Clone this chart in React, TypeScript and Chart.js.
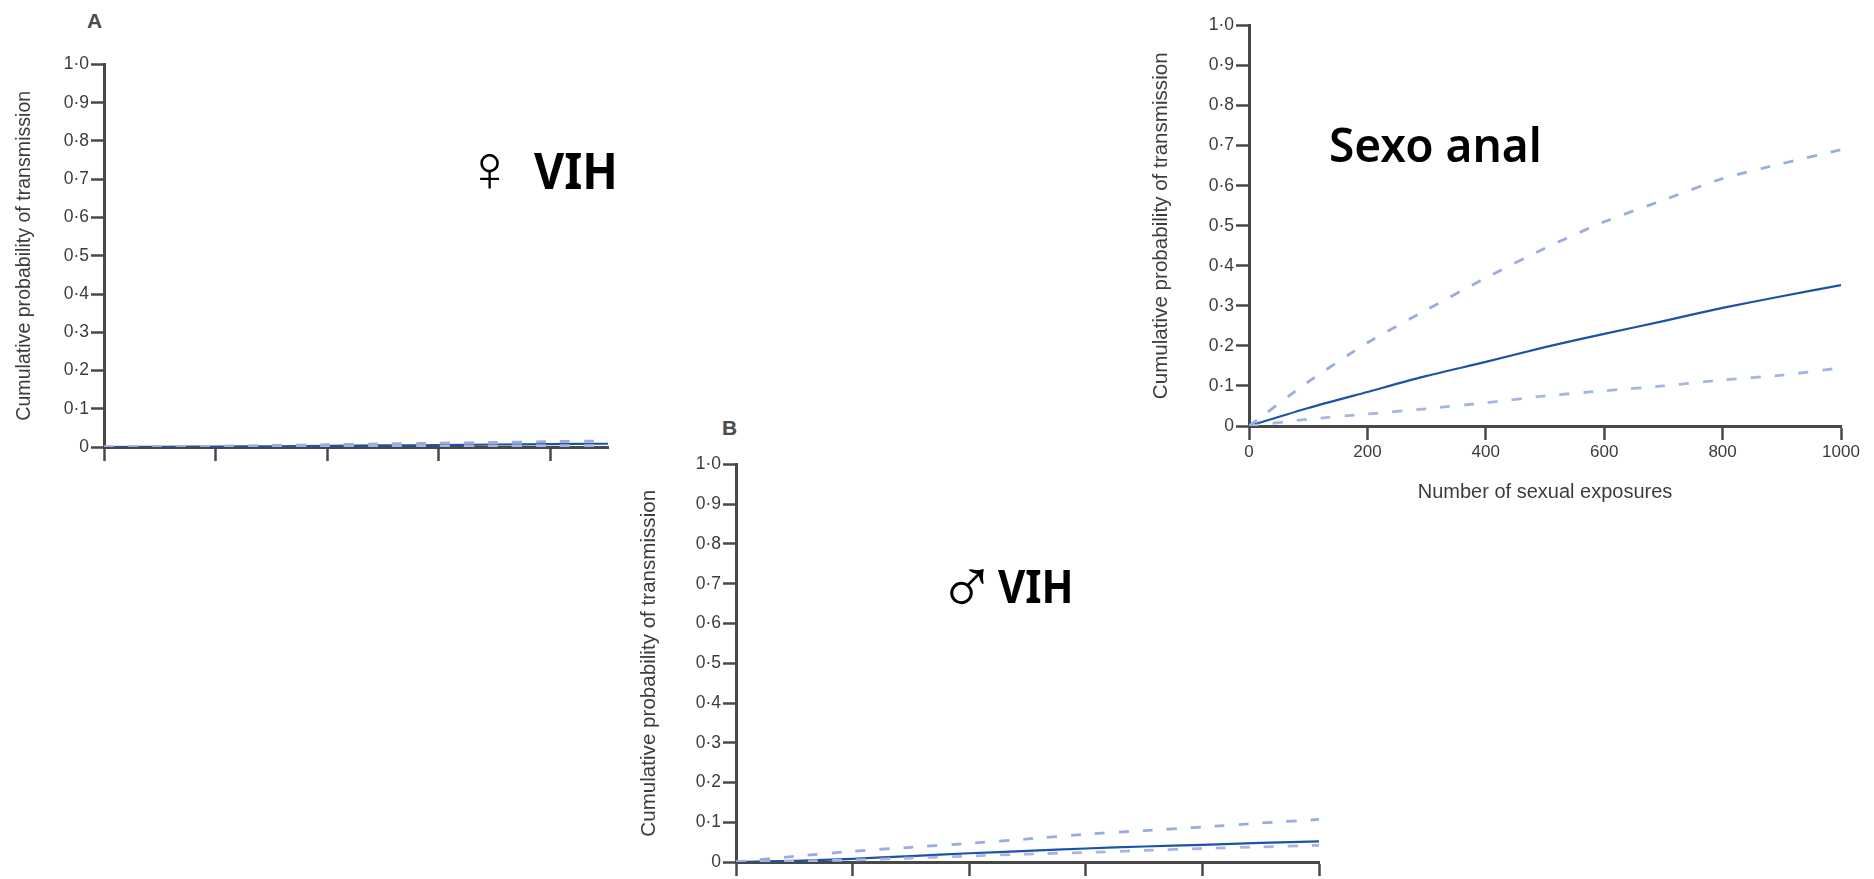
import React, { useEffect, useRef } from "react";
import { Chart, registerables } from "chart.js";

Chart.register(...registerables);

const exposures = [0, 100, 200, 300, 400, 500, 600, 700, 800, 900, 1000];
const yTicks = [0, 0.1, 0.2, 0.3, 0.4, 0.5, 0.6, 0.7, 0.8, 0.9, 1];

const femaleMid = [0, 0.0005, 0.001, 0.002, 0.003, 0.004, 0.005, 0.0065, 0.0075, 0.0085, 0.0095];
const femaleHigh = [0, 0.001, 0.002, 0.004, 0.006, 0.008, 0.01, 0.012, 0.014, 0.016, 0.018];
const femaleLow = [0, 0.0003, 0.0006, 0.001, 0.0015, 0.002, 0.0025, 0.003, 0.0035, 0.004, 0.0045];

const maleMid = [0, 0.003, 0.008, 0.015, 0.022, 0.028, 0.034, 0.039, 0.043, 0.048, 0.052];
const maleHigh = [0, 0.014, 0.027, 0.037, 0.047, 0.058, 0.07, 0.079, 0.088, 0.098, 0.107];
const maleLow = [0, 0.002, 0.005, 0.01, 0.015, 0.02, 0.024, 0.029, 0.034, 0.038, 0.042];

const analMid = [0, 0.045, 0.085, 0.125, 0.16, 0.197, 0.23, 0.262, 0.295, 0.324, 0.352];
const analHigh = [0, 0.11, 0.208, 0.29, 0.37, 0.444, 0.51, 0.564, 0.618, 0.655, 0.69];
const analLow = [0, 0.017, 0.03, 0.043, 0.058, 0.075, 0.088, 0.1, 0.115, 0.127, 0.145];

const yTitle = "Cumulative probability of transmission";
const xTitle = "Number of sexual exposures";

const AXIS = "#484848";
const TEXT = "#3c3c3c";
const FONT = "'Liberation Sans', sans-serif";

type Panel = {
  rect: { l: number; t: number; r: number; b: number };
  gutter: number;
  titleSize: number;
  xMax: number;
  mid: number[];
  high: number[];
  low: number[];
  showX: boolean;
};

const panels: Panel[] = [
  { rect: { l: 104, t: 64, r: 608, b: 447 }, gutter: 93, titleSize: 19.6, xMax: 903, mid: femaleMid, high: femaleHigh, low: femaleLow, showX: false },
  { rect: { l: 736, t: 464, r: 1319, b: 862 }, gutter: 101, titleSize: 20.6, xMax: 1000, mid: maleMid, high: maleHigh, low: maleLow, showX: false },
  { rect: { l: 1249, t: 25, r: 1841, b: 426 }, gutter: 102, titleSize: 20.6, xMax: 1000, mid: analMid, high: analHigh, low: analLow, showX: true },
];

const points = (ys: number[]) => exposures.map((x, i) => ({ x, y: ys[i] }));

function PanelChart({ panel }: { panel: Panel }) {
  const ref = useRef<HTMLCanvasElement>(null);
  const { l, t, r, b } = panel.rect;
  const left = l - panel.gutter;
  const top = t - 12;
  const right = r + 32;
  const bottom = panel.showX ? b + 78 : b + 17;
  const width = right - left;
  const height = bottom - top;

  useEffect(() => {
    const chart = new Chart(ref.current!, {
      type: "line",
      data: {
        datasets: [
          { data: points(panel.high), borderColor: "#9aade0", borderWidth: 2.8, borderDash: [10, 14], pointRadius: 0, tension: 0.2 },
          { data: points(panel.low), borderColor: "#a5b6e2", borderWidth: 2.8, borderDash: [10, 14], pointRadius: 0, tension: 0.2 },
          { data: points(panel.mid), borderColor: "#1b53a6", borderWidth: 2.2, pointRadius: 0, tension: 0.2 },
        ],
      },
      options: {
        animation: false,
        responsive: false,
        layout: { padding: { top: 12, right: 32, left: 0, bottom: 0 } },
        plugins: { legend: { display: false }, tooltip: { enabled: false } },
        scales: {
          x: {
            type: "linear",
            min: 0,
            max: panel.xMax,
            border: { color: AXIS, width: 3 },
            grid: { drawOnChartArea: false, color: AXIS, tickLength: 14, tickWidth: 2.5 },
            ticks: {
              stepSize: 200,
              includeBounds: false,
              maxRotation: 0,
              padding: 2,
              color: TEXT,
              font: { family: FONT, size: 17 },
              callback: (v: number) => (panel.showX ? String(v) : ""),
            },
            title: {
              display: panel.showX,
              text: xTitle,
              color: TEXT,
              font: { family: FONT, size: 20 },
              padding: { top: 4, bottom: 0 },
            },
            afterFit: (s: any) => {
              s.height = bottom - b;
            },
          },
          y: {
            type: "linear",
            min: 0,
            max: 1,
            border: { color: AXIS, width: 3 },
            grid: { drawOnChartArea: false, color: AXIS, tickLength: 13, tickWidth: 2.5 },
            afterBuildTicks: (s: any) => {
              s.ticks = yTicks.map((value) => ({ value }));
            },
            ticks: {
              padding: 2,
              autoSkip: false,
              color: TEXT,
              font: { family: FONT, size: 17.5 },
              callback: (v: number) => (v === 0 ? "0" : v.toFixed(1).replace(".", "·")),
            },
            title: {
              display: true,
              text: yTitle,
              color: TEXT,
              font: { family: FONT, size: panel.titleSize },
              padding: { top: 2, bottom: 0 },
            },
            afterFit: (s: any) => {
              s.width = l - left;
            },
          },
        },
      },
    } as any);
    return () => chart.destroy();
  }, []);

  return (
    <canvas
      ref={ref}
      width={width}
      height={height}
      style={{ position: "absolute", left, top, width, height, filter: "blur(0.6px)" }}
    />
  );
}

const label = (
  text: string,
  x: number,
  y: number,
  size: number,
  family: string,
  weight: number,
  color = "#000",
  scaleX = 1
) => (
  <span
    key={text + x}
    style={{
      position: "absolute",
      left: x,
      top: y,
      fontFamily: family,
      fontSize: size,
      fontWeight: weight,
      lineHeight: 1,
      color,
      whiteSpace: "nowrap",
      transform: `scaleX(${scaleX})`,
      transformOrigin: "left top",
    }}
  >
    {text}
  </span>
);

const HEAD = "'Noto Sans', sans-serif";

export default function App() {
  return (
    <div style={{ position: "absolute", left: 0, top: 0, width: 1874, height: 879, overflow: "hidden", background: "#fff" }}>
      {panels.map((p, i) => (
        <PanelChart key={i} panel={p} />
      ))}
      {label("A", 87, 10, 21, FONT, 700, "#4a4a4a")}
      {label("B", 722, 417, 21, FONT, 700, "#4a4a4a")}
      {label("♀", 465, 135, 66, FONT, 400)}
      {label("VIH", 534, 145, 50, HEAD, 700, "#000", 0.93)}
      {label("♂", 937, 547, 80, FONT, 400)}
      {label("VIH", 998, 562, 46, HEAD, 700, "#000", 0.91)}
      {label("Sexo anal", 1329, 121, 46, HEAD, 600)}
    </div>
  );
}
